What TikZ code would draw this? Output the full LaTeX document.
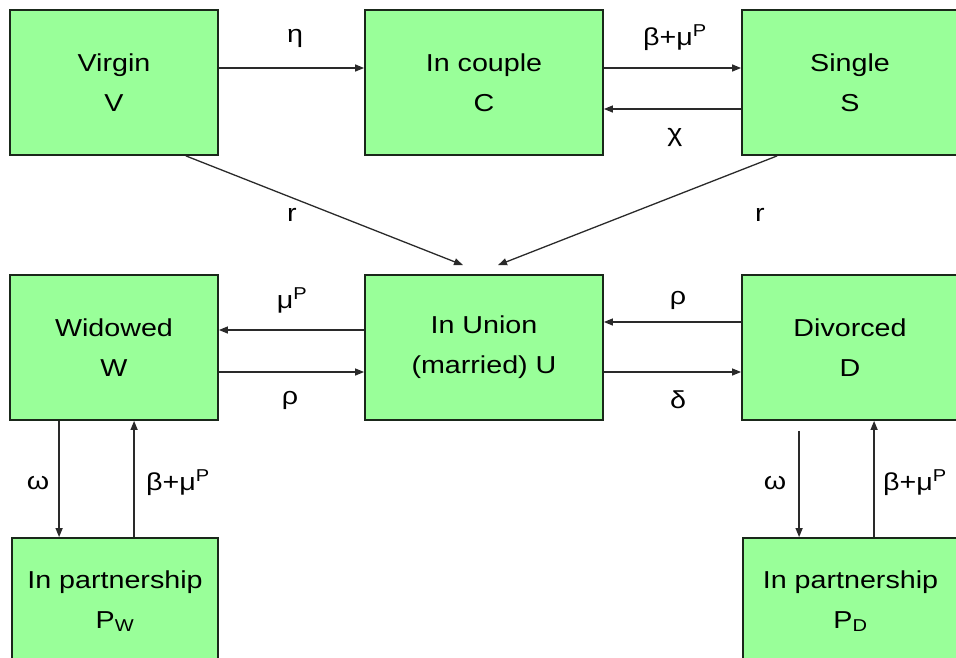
\documentclass[tikz,border=0pt]{standalone}
\usepackage{fontspec}
\setmainfont{Liberation Sans}[FakeStretch=1.17]
\usetikzlibrary{arrows.meta}
\definecolor{boxfill}{HTML}{99FF99}
\definecolor{boxline}{HTML}{1A281A}
\definecolor{arrowcol}{HTML}{2A2A2A}
\tikzset{
  box/.style={draw=boxline, line width=1.8pt, fill=boxfill, align=center,
    font=\fontsize{24.5}{40}\selectfont, inner sep=0pt},
  flow/.style={draw=arrowcol, line width=1.3pt, -{Triangle[length=9pt,width=7pt]}},
  lbl/.style={font=\fontsize{24.5}{28}\selectfont, inner sep=0pt}
}
\begin{document}
\begin{tikzpicture}[x=1pt,y=-1pt]
\useasboundingbox (0,0) rectangle (956,657);
% boxes
\node[box, minimum width=208pt, minimum height=145pt] (V) at (114,82.5) {Virgin\\V};
\node[box, minimum width=238pt, minimum height=145pt] (C) at (484,82.5) {In couple\\C};
\node[box, minimum width=216pt, minimum height=145pt] (S) at (850,82.5) {Single\\S};
\node[box, minimum width=208pt, minimum height=145pt] (W) at (114,347.5) {Widowed\\W};
\node[box, minimum width=238pt, minimum height=145pt] (U) at (484,347.5) {In Union\\(married) U};
\node[box, minimum width=216pt, minimum height=145pt] (D) at (850,347.5) {Divorced\\D};
\node[box, minimum width=206pt, minimum height=126pt] (PW) at (115,601) {In partnership\\P\textsubscript{W}};
\node[box, minimum width=215pt, minimum height=126pt] (PD) at (850.5,601) {In partnership\\P\textsubscript{D}};
% connectors
\draw[flow] ([yshift=14.5pt]V.east) -- ([yshift=14.5pt]C.west);
\draw[flow] ([yshift=14.5pt]C.east) -- ([yshift=14.5pt]S.west);
\draw[flow] ([yshift=-26.5pt]S.west) -- ([yshift=-26.5pt]C.east);
\draw[flow] ([xshift=-33pt]V.south east) -- ([xshift=-21pt,yshift=9pt]U.north);
\draw[flow] ([xshift=36pt]S.south west) -- ([xshift=14pt,yshift=9pt]U.north);
\draw[flow] ([yshift=17.5pt]U.west) -- ([yshift=17.5pt]W.east);
\draw[flow] ([yshift=-24.5pt]W.east) -- ([yshift=-24.5pt]U.west);
\draw[flow] ([yshift=25.5pt]D.west) -- ([yshift=25.5pt]U.east);
\draw[flow] ([yshift=-24.5pt]U.east) -- ([yshift=-24.5pt]D.west);
\draw[flow] ([xshift=50pt]W.south west) -- ([xshift=48pt]PW.north west);
\draw[flow] ([xshift=123pt]PW.north west) -- ([xshift=125pt]W.south west);
\draw[flow] ([xshift=58pt,yshift=-10pt]D.south west) -- ([xshift=57pt]PD.north west);
\draw[flow] ([xshift=132pt]PD.north west) -- ([xshift=133pt]D.south west);
% labels
\node[lbl] (l1) at (295,38) {η};
\node[lbl] (l2) at (675,38) {β+μ\textsuperscript{P}};
\node[lbl] (l3) at (675,137) {χ};
\node[lbl] (l4) at (292,215) {r};
\node[lbl] (l5) at (760,215) {r};
\node[lbl] (l6) at (292,300) {μ\textsuperscript{P}};
\node[lbl] (l7) at (290,400) {ρ};
\node[lbl] (l8) at (678,300) {ρ};
\node[lbl] (l9) at (678,400) {δ};
\node[lbl] (l10) at (38,483) {ω};
\node[lbl] (l11) at (178,483) {β+μ\textsuperscript{P}};
\node[lbl] (l12) at (775,483) {ω};
\node[lbl] (l13) at (915,483) {β+μ\textsuperscript{P}};
\end{tikzpicture}
\end{document}
